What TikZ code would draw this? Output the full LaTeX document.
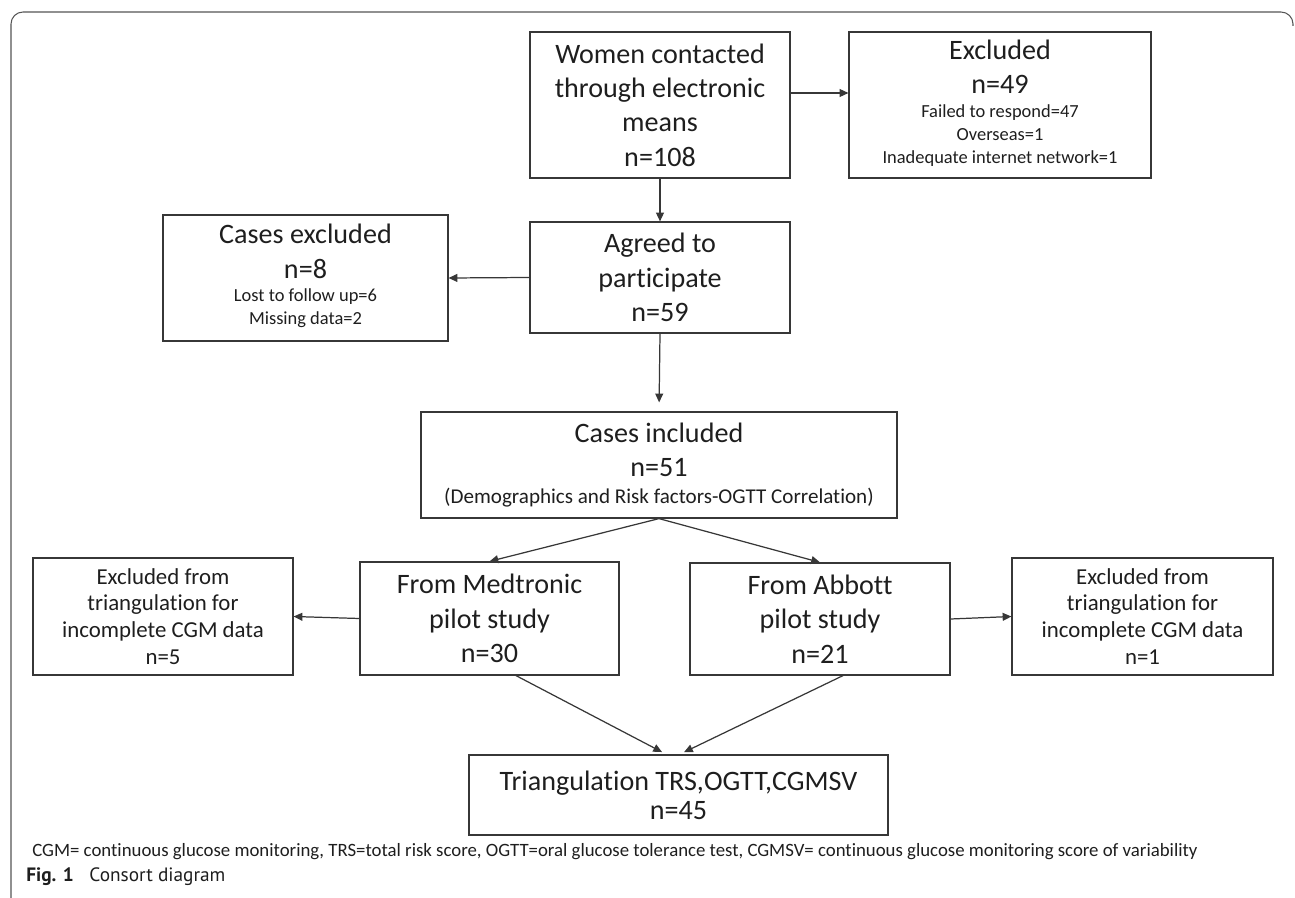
\documentclass[tikz,border=0pt]{standalone}
\usepackage{fontspec}
\setmainfont{Carlito}[Ligatures=NoCommon]
\newfontfamily\captionfamily{PT Sans}
\usepackage{tikz}
\usetikzlibrary{arrows.meta}
\definecolor{linegray}{RGB}{55,55,55}
\definecolor{framegray}{RGB}{85,85,85}
\definecolor{inkgray}{RGB}{30,30,30}
\newcommand{\mainsize}{\fontsize{16}{19.5}\selectfont}
\newcommand{\sidesize}{\fontsize{13}{15.3}\selectfont}
\newcommand{\notesize}{\fontsize{12}{14}\selectfont}
\newcommand{\detailsize}{\fontsize{10.5}{13}\selectfont}
\newcommand{\footsize}{\fontsize{10.7}{12}\selectfont}

\begin{document}
\begin{tikzpicture}[
  x=0.02cm, y=-0.02cm,
  flowbox/.style={draw=linegray, line width=0.7pt, inner sep=2pt, align=center, text=inkgray, font=\mainsize},
  arrow/.style={-{Triangle[length=5pt, width=4.5pt]}, line width=0.7pt, linegray}
]
\useasboundingbox (0,0) rectangle (1295,898);

% Frame
\draw[framegray, line width=0.6pt, rounded corners=0.24cm] (1293,26) |- (11,12) -- (11,898);

% Enrolment
\node[flowbox, minimum width=5.2cm, minimum height=2.92cm] (contacted) at (660,105) {Women contacted\\through electronic\\means\\n=108};
\node[flowbox, minimum width=6.04cm, minimum height=2.92cm] (excluded) at (1000,105) {Excluded\\n=49\\[-6pt]{\detailsize\begin{tabular}[t]{@{}c@{}}Failed to respond=47\\Overseas=1\\Inadequate internet network=1\end{tabular}}};
\node[flowbox, minimum width=5.2cm, minimum height=2.22cm] (agreed) at (660,277.5) {Agreed to\\participate\\n=59};
\node[flowbox, minimum width=5.7cm, minimum height=2.52cm] (casesout) at (305.5,278) {Cases excluded\\n=8\\[-6pt]{\detailsize\begin{tabular}[t]{@{}c@{}}Lost to follow up=6\\Missing data=2\end{tabular}}};

% Included cases
\node[flowbox, minimum width=9.52cm, minimum height=2.12cm] (included) at (659,465) {Cases included\\n=51\\[-4pt]{\notesize (Demographics and Risk factors-OGTT Correlation)}};

% Pilot studies
\node[flowbox, minimum width=5.18cm, minimum height=2.26cm] (medtronic) at (489.5,618.5) {From Medtronic\\pilot study\\n=30};
\node[flowbox, minimum width=5.2cm, minimum height=2.24cm] (abbott) at (820,619) {From Abbott\\pilot study\\n=21};
\node[flowbox, font=\sidesize, minimum width=5.2cm, minimum height=2.34cm] (medout) at (163,616.5) {Excluded from\\triangulation for\\incomplete CGM data\\n=5};
\node[flowbox, font=\sidesize, minimum width=5.22cm, minimum height=2.34cm] (abbout) at (1142.5,616.5) {Excluded from\\triangulation for\\incomplete CGM data\\n=1};

% Triangulation
\node[flowbox, minimum width=8.38cm, minimum height=1.6cm] (triang) at (678.5,795) {Triangulation TRS,OGTT,CGMSV\\[-3pt]n=45};

% Arrows
\draw[arrow] ([yshift=0.24cm]contacted.east) -- ([yshift=0.24cm]excluded.west);
\draw[arrow] (contacted.south) -- (agreed.north);
\draw[arrow] (agreed.west) -- (casesout.east);
\draw[arrow, shorten >=0.18cm] (agreed.south) -- (included.north);
\draw[arrow] (included.south) -- (medtronic.north);
\draw[arrow] (included.south) -- (abbott.north);
\draw[arrow] (medtronic.west) -- (medout.east);
\draw[arrow] (abbott.east) -- (abbout.west);
\draw[arrow, shorten >=0.1cm] ([xshift=0.53cm]medtronic.south) -- ([xshift=-0.24cm]triang.north);
\draw[arrow, shorten >=0.1cm] ([xshift=0.46cm]abbott.south) -- ([xshift=0.02cm]triang.north);

% Abbreviations and caption
\node[anchor=west, inner sep=0pt, text=inkgray, font=\footsize] (abbrev) at (32,852) {CGM= continuous glucose monitoring, TRS=total risk score, OGTT=oral glucose tolerance test, CGMSV= continuous glucose monitoring score of variability};
\node[anchor=west, inner sep=0pt, text=inkgray, font=\captionfamily\fontsize{11}{13}\selectfont] (figcap) at (26,877) {\textbf{Fig. 1}\hspace{0.8em}Consort diagram};

\end{tikzpicture}
\end{document}
